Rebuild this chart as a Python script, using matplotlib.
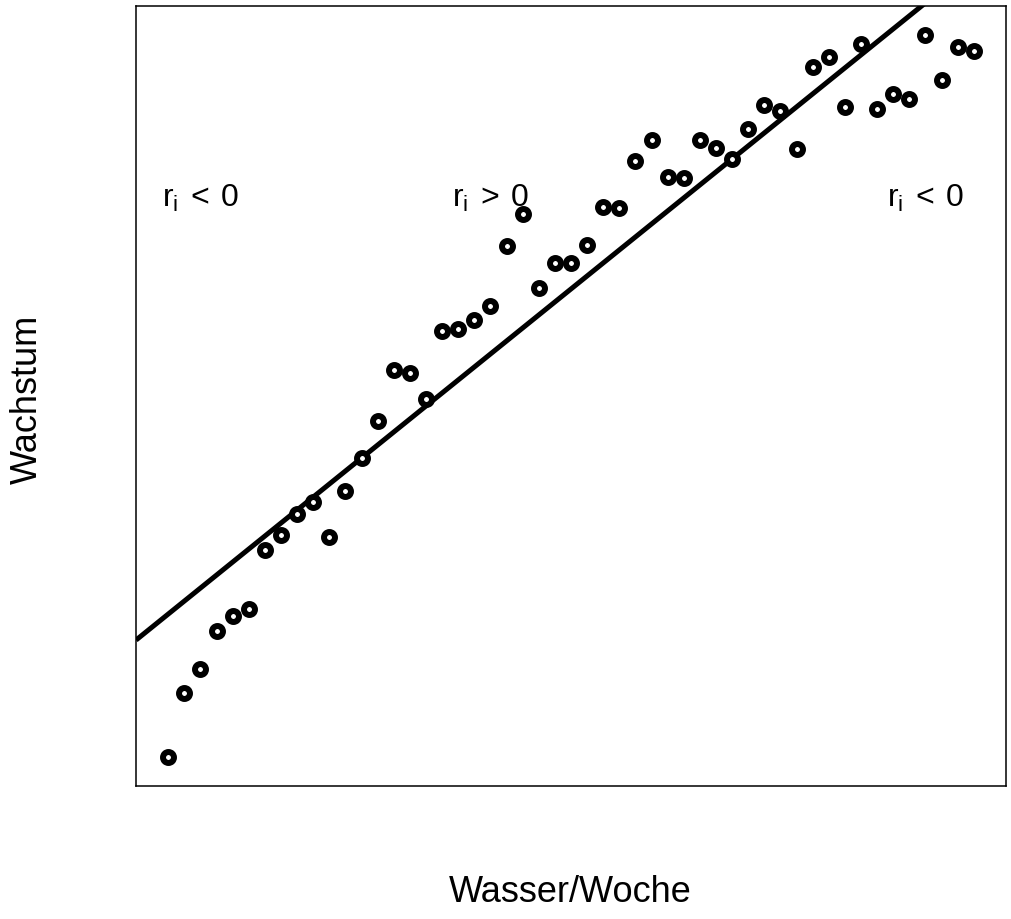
import numpy as np
import matplotlib
matplotlib.use("Agg")
import matplotlib.pyplot as plt

plt.rcParams["font.family"] = ["Liberation Sans", "DejaVu Sans"]

# Weekly water amount (index) and measured growth
wasser = np.arange(1, 52)
wachstum = [3.2, 9.6, 12.0, 15.8, 17.3, 18.0, 23.9, 25.4, 27.5, 28.7,
            25.2, 29.8, 33.1, 36.8, 41.9, 41.6, 39.0, 45.8, 46.0, 46.9,
            48.3, 54.3, 57.5, 50.1, 52.6, 52.6, 54.4, 58.2, 58.1, 62.8,
            64.9, 61.2, 61.1, 64.9, 64.1, 63.0, 66.0, 68.4, 67.8, 64.0,
            72.2, 73.2, 68.2, 74.5, 68.0, 69.5, 69.0, 75.4, 70.9, 74.2,
            73.8]

# Straight-line model drawn across the panel
intercept = 16.2
slope = 1.3

# Residual sign annotations
label_x = [3, 21, 48]
label_y = [58.3, 58.3, 58.3]
labels = [r"$\mathregular{r_i\,<\,0}$", r"$\mathregular{r_i\,>\,0}$", r"$\mathregular{r_i\,<\,0}$"]

W, H = 1011, 920
fig = plt.figure(figsize=(W / 100, H / 100), dpi=100)
ax = fig.add_axes([136 / W, (H - 787) / H, (1006 - 136) / W, (787 - 7) / H])

x = np.asarray(wasser, dtype=float)
y = np.asarray(wachstum, dtype=float)

def padded(lo, hi):
    d = (hi - lo) * 0.04
    return lo - d, hi + d

ax.set_xlim(*padded(x.min(), x.max()))
ax.set_ylim(*padded(y.min(), y.max()))

xl = np.array(ax.get_xlim())
ax.plot(xl, intercept + slope * xl, color="black", lw=3.6, solid_capstyle="butt", zorder=2)

ax.plot(x, y, linestyle="none", marker="o", markersize=7.9, markeredgewidth=4.3,
        markerfacecolor="white", markeredgecolor="black", zorder=3)

for tx, ty, t in zip(label_x, label_y, labels):
    ax.text(tx, ty, t, ha="center", va="baseline", fontsize=23)

ax.set_xticks([])
ax.set_yticks([])
for s in ax.spines.values():
    s.set_linewidth(1.1)

fig.text(570 / W, 1 - 902 / H, "Wasser/Woche", ha="center", va="baseline", fontsize=26)
fig.text(27.5 / W, 1 - 399.5 / H, "Wachstum", ha="center", va="center", rotation=90, fontsize=26)

fig.savefig("out.png", dpi=100)
